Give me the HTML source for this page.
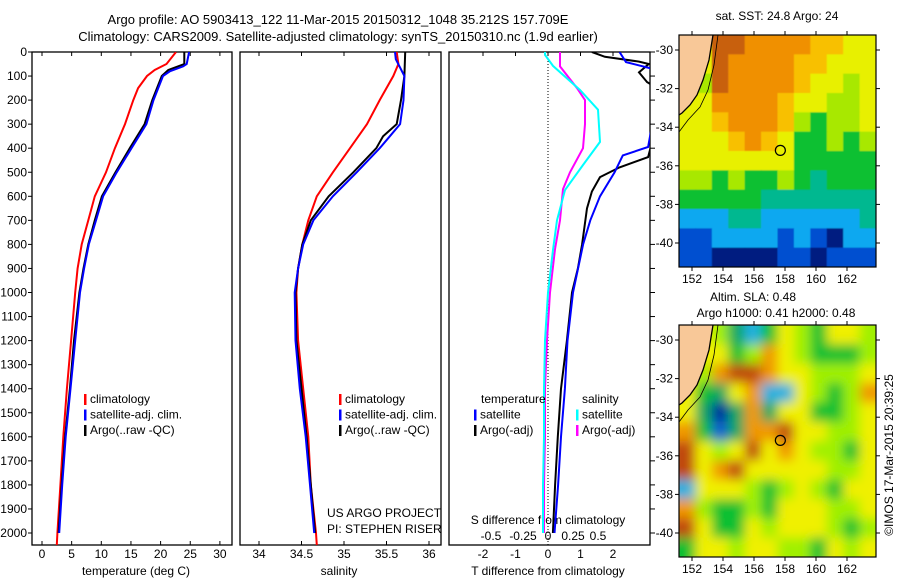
<!DOCTYPE html>
<html><head><meta charset="utf-8"><style>
body{margin:0;background:#fff}
svg{display:block;font-family:"Liberation Sans",sans-serif}
text{font-size:12px;fill:#000}
</style></head><body>
<svg id="c" width="900" height="580" viewBox="0 0 900 580">
<defs>
<clipPath id="cp1"><rect x="32" y="52" width="200" height="493"/></clipPath>
<clipPath id="cp2"><rect x="240" y="52" width="201" height="493"/></clipPath>
<clipPath id="cp3"><rect x="449" y="52" width="201" height="493"/></clipPath>
<clipPath id="cm1"><rect x="679" y="35" width="197" height="232"/></clipPath>
<clipPath id="cm2"><rect x="679" y="325" width="197" height="232"/></clipPath>
<filter id="bl" x="-5%" y="-5%" width="110%" height="110%"><feGaussianBlur stdDeviation="5.5"/></filter>
<filter id="bs"><feGaussianBlur stdDeviation="0.6"/></filter>
</defs>
<text x="338" y="24" text-anchor="middle" style="font-size:13px">Argo profile: AO 5903413_122 11-Mar-2015 20150312_1048 35.212S 157.709E</text>
<text x="338" y="41" text-anchor="middle" style="font-size:13px">Climatology: CARS2009. Satellite-adjusted climatology: synTS_20150310.nc (1.9d earlier)</text>
<g id="g"></g>
</svg>
<script>
// ---- data ----
const tempDepths=[0,50,75,100,150,200,300,400,500,600,700,800,900,1000,1200,1400,1600,1800,2000,2050];
const tempClim=[22.6,21.0,19.0,17.7,16.2,15.4,14.0,12.3,10.8,8.9,7.8,6.7,6.0,5.6,4.9,4.2,3.6,3.1,2.6,2.5];
const satDepths=[0,50,60,80,100,200,300,400,500,600,700,800,900,1000,1200,1400,1600,1800,2000];
const tempSat=[24.8,24.4,23.8,21.6,20.4,18.8,17.6,15.1,12.6,10.3,9.1,7.9,7.1,6.4,5.6,4.8,4.0,3.4,2.9];
const argoDepths=[0,50,75,100,200,300,400,500,600,700,800,900,1000,1200,1400,1600,1800,2000];
const tempArgo=[24.0,24.0,21.3,20.2,18.6,17.3,14.8,12.4,10.1,8.9,7.8,7.0,6.3,5.4,4.7,3.9,3.3,2.8];
const salDepths=[0,50,100,200,300,400,500,600,700,800,900,1000,1200,1400,1600,1800,2000,2050];
const salClim=[35.62,35.64,35.58,35.42,35.27,35.07,34.87,34.68,34.58,34.51,34.46,34.44,34.46,34.52,34.58,34.61,34.67,34.68];
const salSatDepths=[0,30,100,200,300,350,400,500,600,700,800,900,1000,1200,1400,1600,1800,2000];
const salSat=[35.6,35.61,35.71,35.70,35.66,35.54,35.42,35.15,34.87,34.64,34.52,34.46,34.42,34.43,34.48,34.55,34.60,34.65];
const salArgoDepths=[0,100,200,300,350,400,500,600,700,800,900,1000,1200,1400,1600,1800,2000];
const salArgo=[35.72,35.71,35.67,35.62,35.46,35.38,35.11,34.82,34.61,34.51,34.46,34.43,34.44,34.50,34.56,34.61,34.66];
const sdDepths=[0,12,58,158,240,374,470,574,700,823,1000,1200,1400,1600,1800,2000];
const sDiffSat=[-0.03,-0.03,0.05,0.32,0.50,0.52,0.35,0.17,0.09,0.05,0.0,-0.03,-0.04,-0.04,-0.05,-0.05];
const smDepths=[0,60,150,200,300,400,500,570,700,820,1000,1200,1400,1600,1800,2000];
const sDiffArgo=[0.12,0.12,0.29,0.37,0.37,0.35,0.22,0.15,0.12,0.07,0.02,-0.01,-0.03,-0.03,-0.04,-0.04];
const tdSatDepths=[0,42,80,395,430,500,600,700,800,1000,1200,1400,1600,1800,2000];
const tDiffSat=[2.2,2.4,3.5,3.08,2.3,2.05,1.6,1.3,1.08,0.77,0.6,0.52,0.4,0.31,0.2];
const tdArgoDepths=[0,20,40,50,85,125,170,437,480,520,580,650,800,900,1000,1200,1400,1600,1800,2000];
const tDiffArgo=[1.35,1.75,2.8,3.1,2.8,3.05,3.6,3.08,2.2,1.6,1.35,1.2,1.05,0.92,0.74,0.58,0.4,0.3,0.22,0.15];
const depthTicks=[0,100,200,300,400,500,600,700,800,900,1000,1100,1200,1300,1400,1500,1600,1700,1800,1900,2000];
const tempTicks=[0,5,10,15,20,25,30];
const salTicks=[34,34.5,35,35.5,36];
const tdTicks=[-2,-1,0,1,2];
const sdTicks=[-0.5,-0.25,0,0.25,0.5];
const sdTickLabels=["-0.5","-0.25","0","0.25","0.5"];
const lonTicks=[152,154,156,158,160,162];
const latTicks=[-30,-32,-34,-36,-38,-40];
const sstGrid=[
[-1,-1,9,9,8,8,8,8,7,7,6,6],
[-1,-1,9,8,8,8,8,7,7,6,6,6],
[-1,5,9,8,8,8,8,7,6,6,5,6],
[-1,6,8,8,8,8,7,6,6,5,5,6],
[6,6,7,8,8,8,7,5,4,5,5,6],
[6,6,6,7,8,7,6,4,4,5,4,5],
[6,6,6,6,6,6,6,4,4,4,4,4],
[5,5,4,5,4,4,5,4,3,4,4,4],
[4,4,4,4,4,3,3,3,3,3,3,3],
[2,2,2,3,3,2,2,2,2,2,2,3],
[1,1,2,2,2,2,1,2,1,0,2,2],
[1,1,0,0,0,0,1,1,0,1,1,1]];
const slaGrid=[
[-1,-1,5,3,2,4,6,5,4,6,6,5],
[-1,-1,6,4,5,7,6,5,4,4,4,5],
[-1,5,7,8,8,7,6,6,5,5,5,6],
[-1,4,3,6,7,2,2,6,5,4,5,7],
[6,3,0,3,7,3,6,6,4,4,5,6],
[7,4,1,3,7,7,8,6,6,5,5,6],
[8,6,5,6,8,6,7,6,5,5,4,6],
[8,6,7,8,6,6,6,6,6,5,5,6],
[2,6,6,6,5,4,5,6,5,4,6,6],
[7,5,4,4,5,4,6,6,6,5,5,6],
[8,6,4,4,6,5,6,6,6,5,4,5],
[4,6,6,5,6,6,5,5,4,6,5,6]];
const sstPal=["#001a80","#0050d0","#10a8f0","#00b890","#10c030","#a8e800","#e8f000","#f8c000","#f09000","#c86010"];
const slaPal=["#0020a0","#1060d0","#20b0e0","#10a860","#10c030","#a0f000","#f0f000","#f09800","#c04810"];
const NS="http://www.w3.org/2000/svg";
const G=document.getElementById('g');
function mk(tag,attrs,parent,txt){const e=document.createElementNS(NS,tag);for(const k in attrs)e.setAttribute(k,attrs[k]);if(txt!==undefined)e.textContent=txt;(parent||G).appendChild(e);return e;}
const yD=d=>52+d*0.2405;
const xT=t=>42+t*5.93;
const xS=s=>259+(s-34)*85;
const xTD=v=>548+v*32.5;
const xSD=v=>548+v*100;
function line(xs,ds,fx,color,w,clip,name){
  const pts=xs.map((v,i)=>fx(v).toFixed(1)+','+yD(ds[i]).toFixed(1)).join(' ');
  const p=mk('polyline',{points:pts,fill:'none',stroke:color,'stroke-width':w,'clip-path':'url(#'+clip+')'});
  
  
}
function panel(x,w,name){
  const r=mk('rect',{x:x,y:52,width:w,height:493,fill:'none',stroke:'#000','stroke-width':1.3});
  
  
}
panel(32,200,'temperature-panel');panel(240,201,'salinity-panel');panel(449,201,'difference-panel');
depthTicks.forEach(d=>{
  mk('line',{x1:28,x2:32,y1:yD(d),y2:yD(d),stroke:'#000'});
  const t=mk('text',{x:27,y:yD(d)+4,'text-anchor':'end'},G,String(d));
  
  
  if(d%100===0){mk('line',{x1:650,x2:655,y1:yD(d),y2:yD(d),stroke:'#000'});}
});
tempTicks.forEach(v=>{const x=xT(v);
  mk('line',{x1:x,x2:x,y1:52,y2:56,stroke:'#000'});mk('line',{x1:x,x2:x,y1:541,y2:545,stroke:'#000'});
  const t=mk('text',{x:x,y:558,'text-anchor':'middle'},G,String(v));
  
  });
salTicks.forEach(v=>{const x=xS(v);
  mk('line',{x1:x,x2:x,y1:52,y2:56,stroke:'#000'});mk('line',{x1:x,x2:x,y1:541,y2:545,stroke:'#000'});
  const t=mk('text',{x:x,y:558,'text-anchor':'middle'},G,String(v));
  
  });
tdTicks.forEach(v=>{const x=xTD(v);
  mk('line',{x1:x,x2:x,y1:52,y2:56,stroke:'#000'});
  const t=mk('text',{x:x,y:558,'text-anchor':'middle'},G,String(v));
  
  });
sdTicks.forEach((v,i)=>{
  const t=mk('text',{x:xSD(v)+(v<=-0.5?-7:0),y:540,'text-anchor':'middle'},G,sdTickLabels[i]);
  
  });
mk('line',{x1:548,x2:548,y1:52,y2:545,stroke:'#000','stroke-dasharray':'1,2'});
[[136,575,'temperature (deg C)','temperature-axis-title'],[339,575,'salinity','salinity-axis-title'],[548,575,'T difference from climatology','t-diff-axis-title'],[548,524,'S difference from climatology','s-diff-axis-title']].forEach(a=>{
  const t=mk('text',{x:a[0],y:a[1],'text-anchor':'middle'},G,a[2]);
  
  });
line(tempClim,tempDepths,xT,'#f00',2,'cp1','temp-climatology-line');
line(tempArgo,argoDepths,xT,'#000',2,'cp1','temp-argo-line');
line(tempSat,satDepths,xT,'#00f',2,'cp1','temp-satellite-line');
line(salClim,salDepths,xS,'#f00',2,'cp2','sal-climatology-line');
line(salArgo,salArgoDepths,xS,'#000',2,'cp2','sal-argo-line');
line(salSat,salSatDepths,xS,'#00f',2,'cp2','sal-satellite-line');
line(sDiffArgo,smDepths,xSD,'#f0f',2,'cp3','s-diff-argo-line');
line(sDiffSat,sdDepths,xSD,'#0ff',2,'cp3','s-diff-satellite-line');
line(tDiffArgo,tdArgoDepths,xTD,'#000',2,'cp3','t-diff-argo-line');
line(tDiffSat,tdSatDepths,xTD,'#00f',2,'cp3','t-diff-satellite-line');
function leg(x,y,color,label){
  mk('rect',{x:x,y:y-9,width:2.5,height:11,fill:color});
  const t=mk('text',{x:x+6,y:y},G,label);
  
  
}
[[84,'climatology','#f00'],[84,'satellite-adj. clim.','#00f'],[84,'Argo(..raw -QC)','#000']].forEach((e,i)=>leg(e[0],403+i*15.5,e[2],e[1]));
[[339,'climatology','#f00'],[339,'satellite-adj. clim.','#00f'],[339,'Argo(..raw -QC)','#000']].forEach((e,i)=>leg(e[0],403+i*15.5,e[2],e[1]));
mk('text',{x:481,y:403},G,'temperature');mk('text',{x:582,y:403},G,'salinity');
leg(474,418.5,'#00f','satellite');leg(474,434,'#000','Argo(-adj)');
leg(576,418.5,'#0ff','satellite');leg(576,434,'#f0f','Argo(-adj)');
const pi1=mk('text',{x:327,y:517},G,'US ARGO PROJECT');


const pi2=mk('text',{x:327,y:533},G,'PI: STEPHEN RISER');


const lonX=l=>692+(l-152)*15.5;
function map(y0,grid,pal,filt,name,clip){
  const latY=la=>y0+15+(-30-la)*19.3;
  const g=mk('g',{'clip-path':'url(#'+clip+')'});
  
  
  const inner=mk('g',{filter:'url(#'+filt+')'},g);
  mk('rect',{x:670,y:y0-10,width:215,height:252,fill:pal[6]},inner);
  const cw=197/12,ch=232/12;
  grid.forEach((row,r)=>row.forEach((v,c)=>{
    const col=v<0?pal[6]:pal[v];
    mk('rect',{x:679+c*cw-(c==0?10:0),y:y0+r*ch-(r==0?10:0),width:cw+0.6+(c==0?10:0)+(c==11?10:0),height:ch+0.6+(r==11?10:0)+(r==0?10:0),fill:col},inner);
  }));
  mk('polygon',{points:`679,${y0} 713,${y0} 709,${y0+25} 703,${y0+45} 697,${y0+60} 690,${y0+70} 682,${y0+78} 679,${y0+80}`,fill:'#f8c898'},g);
  mk('polyline',{points:`713,${y0} 709,${y0+25} 703,${y0+45} 697,${y0+60} 690,${y0+70} 682,${y0+78} 679,${y0+80}`,fill:'none',stroke:'#000','stroke-width':1.3},g);
  mk('polyline',{points:`718,${y0} 714,${y0+30} 708,${y0+55} 700,${y0+72} 688,${y0+85} 679,${y0+97}`,fill:'none',stroke:'#000','stroke-width':0.8},g);
  mk('circle',{cx:lonX(157.7),cy:latY(-35.2),r:5,fill:'none',stroke:'#000','stroke-width':1.2},g);
  mk('rect',{x:679,y:y0,width:197,height:232,fill:'none',stroke:'#000','stroke-width':1.2});
  lonTicks.forEach(l=>{const x=lonX(l);
    mk('line',{x1:x,x2:x,y1:y0-4,y2:y0,stroke:'#000'});mk('line',{x1:x,x2:x,y1:y0+232,y2:y0+236,stroke:'#000'});
    const t=mk('text',{x:x,y:y0+248,'text-anchor':'middle'},G,String(l));
    
    });
  latTicks.forEach(la=>{const y=latY(la);
    mk('line',{x1:675,x2:679,y1:y,y2:y,stroke:'#000'});mk('line',{x1:876,x2:880,y1:y,y2:y,stroke:'#000'});
    const t=mk('text',{x:673,y:y+4,'text-anchor':'end'},G,String(la));
    
    });
}
map(35,sstGrid,sstPal,'bs','sst-map','cm1');
map(325,slaGrid,slaPal,'bl','sla-map','cm2');
[[777,20,'sat. SST: 24.8 Argo: 24','sst-map-title'],[753,301,'Altim. SLA: 0.48','sla-map-title'],[776,317,'Argo h1000: 0.41 h2000: 0.48','sla-map-subtitle']].forEach(a=>{
  const t=mk('text',{x:a[0],y:a[1],'text-anchor':'middle'},G,a[2]);
  
  });
const cr=mk('text',{x:0,y:0,'text-anchor':'middle',transform:'translate(893,455) rotate(-90)'},G,'©IMOS 17-Mar-2015 20:39:25');


</script>
</body></html>
